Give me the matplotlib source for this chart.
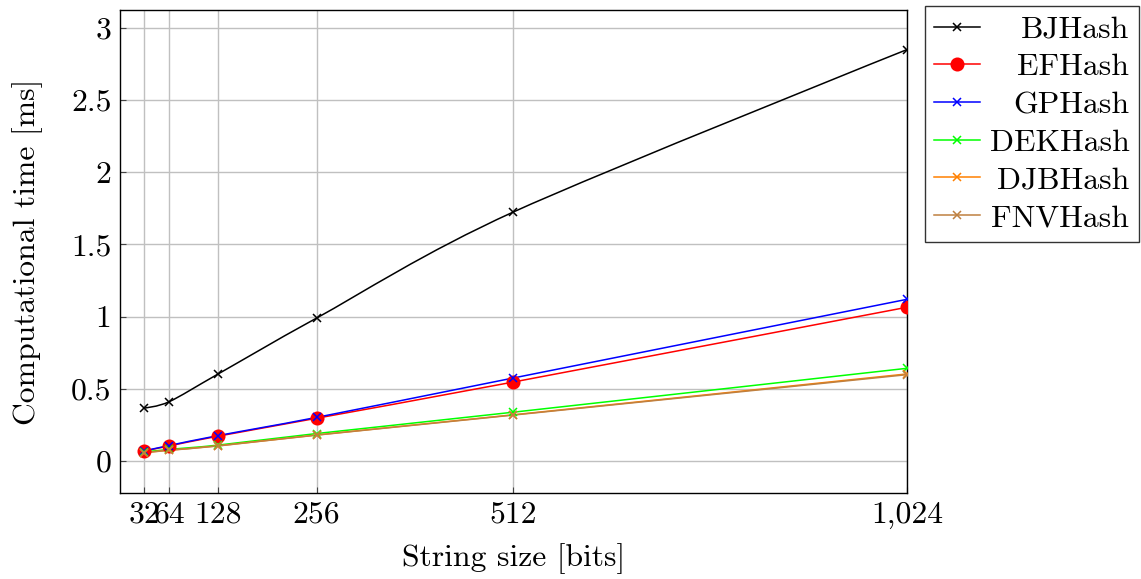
import numpy as np
import matplotlib
matplotlib.use("Agg")
import matplotlib.pyplot as plt
from matplotlib.path import Path
from matplotlib.patches import PathPatch
from matplotlib.lines import Line2D

plt.rcParams['font.family'] = 'serif'
plt.rcParams['font.serif'] = ['cmr10', 'DejaVu Serif']
plt.rcParams['mathtext.fontset'] = 'cm'
plt.rcParams['axes.unicode_minus'] = False

sizes = [32, 64, 128, 256, 512, 1024]
size_labels = ['32', '64', '128', '256', '512', '1,024']

bj = [0.367, 0.41, 0.603, 0.99, 1.725, 2.85]
ef = [0.069, 0.104, 0.172, 0.296, 0.547, 1.065]
gp = [0.07, 0.107, 0.176, 0.302, 0.575, 1.12]
dek = [0.062, 0.08, 0.11, 0.19, 0.338, 0.642]
djb = [0.058, 0.075, 0.105, 0.18, 0.32, 0.603]
fnv = [0.057, 0.074, 0.104, 0.179, 0.318, 0.598]

names = ['BJHash', 'EFHash', 'GPHash', 'DEKHash', 'DJBHash', 'FNVHash']
series = [bj, ef, gp, dek, djb, fnv]
colors = ['black', 'red', 'blue', '#00ff00', '#ff8000', '#bf8040']
markers = ['x', 'o', 'x', 'x', 'x', 'x']
msizes = [6, 9, 6, 6, 6, 6]

FS = 22.8


def smooth_path(x, y, tension=0.55):
    # pgf-style smooth curve (cubic bezier through the points)
    p = np.column_stack([x, y]).astype(float)
    k = 0.2775 * tension
    verts = [p[0]]
    codes = [Path.MOVETO]
    n = len(p)
    for i in range(n - 1):
        d0 = p[i + 1] - p[i - 1] if i > 0 else p[1] - p[0]
        d1 = p[i + 2] - p[i] if i + 2 < n else p[n - 1] - p[n - 2]
        if i == 0:
            c1 = p[0]
        else:
            c1 = p[i] + k * d0
        if i + 2 >= n:
            c2 = p[i + 1]
        else:
            c2 = p[i + 1] - k * d1
        verts += [c1, c2, p[i + 1]]
        codes += [Path.CURVE4] * 3
    return Path(verts, codes)


fig = plt.figure(figsize=(11.41, 5.79), dpi=100)
ax = fig.add_axes([0.105, 0.1485, 0.69, 0.8345])

handles = []
for name, vals, c, m, ms in zip(names, series, colors, markers, msizes):
    ax.add_patch(PathPatch(smooth_path(sizes, vals), fill=False, edgecolor=c, lw=1.1, zorder=3))
    ax.plot(sizes, vals, ls='none', marker=m, color=c, ms=ms, mew=1.1, zorder=4)
    handles.append(Line2D([], [], color=c, lw=1.1, marker=m, ms=ms, mew=1.1))

ax.set_xlim(0, 1024)
ax.set_ylim(-0.222, 3.125)
ax.set_xticks(sizes)
ax.set_xticklabels(size_labels)
ax.set_yticks([0, 0.5, 1, 1.5, 2, 2.5, 3])
ax.set_yticklabels(['0', '0.5', '1', '1.5', '2', '2.5', '3'])
ax.grid(True, color='#c0c0c0', lw=1.0)
ax.set_axisbelow(True)
ax.tick_params(direction='in', length=4, labelsize=FS, color='#444444', pad=6)
for s in ax.spines.values():
    s.set_linewidth(1.0)
ax.set_xlabel('String size [bits]', fontsize=FS, labelpad=10)
ax.set_ylabel('Computational time [ms]', fontsize=FS, labelpad=20)

leg = fig.legend(handles, names, loc='upper right', bbox_to_anchor=(1139 / 1141, 1 - 6 / 579),
                 fontsize=FS, frameon=True, fancybox=False, edgecolor='black',
                 handlelength=1.45, handletextpad=0.3, labelspacing=0.3,
                 borderpad=0.3, borderaxespad=0)
leg.get_frame().set_linewidth(1.0)

fig.canvas.draw()
r = fig.canvas.get_renderer()
texts = leg.get_texts()
ws = [t.get_window_extent(r).width for t in texts]
mw = max(ws)
for t, w in zip(texts, ws):
    t.set_position((mw - w, 0))

fig.savefig('out.png', dpi=100)
